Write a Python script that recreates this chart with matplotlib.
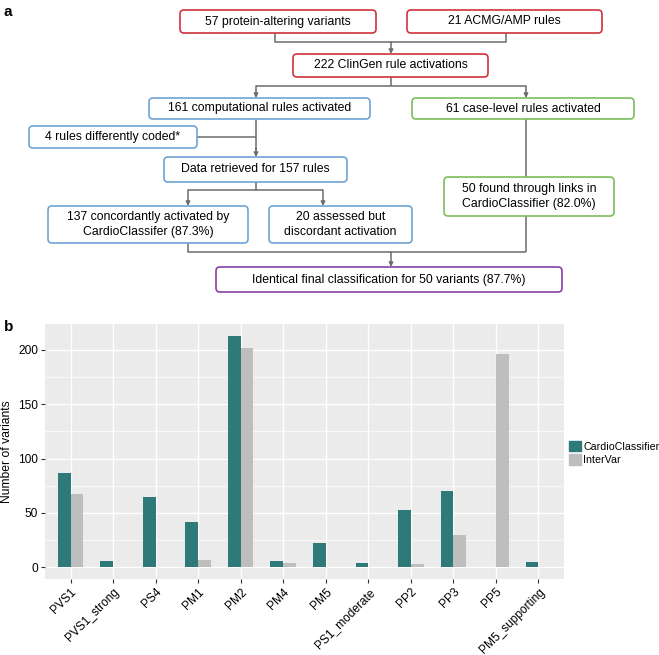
import numpy as np
import matplotlib.pyplot as plt
from matplotlib.patches import FancyBboxPatch, Patch

# panel b data
rules = ['PVS1', 'PVS1_strong', 'PS4', 'PM1', 'PM2', 'PM4', 'PM5',
         'PS1_moderate', 'PP2', 'PP3', 'PP5', 'PM5_supporting']
cardio = [87, 6, 65, 42, 213, 6, 22, 4, 53, 70, 0, 5]
intervar = [67, 0, 0, 7, 202, 4, 0, 0, 3, 30, 196, 0]
series_names = ['CardioClassifier', 'InterVar']

# panel a boxes: text, edge colour, (x0, y0, x1, y1) in pixels
boxes = [
    ('57 protein-altering variants', 'red', (180, 10, 376, 33)),
    ('21 ACMG/AMP rules', 'red', (407, 10, 602, 33)),
    ('222 ClinGen rule activations', 'red', (293, 54, 488, 77)),
    ('161 computational rules activated', 'blue', (149, 98, 370, 119)),
    ('61 case-level rules activated', 'green', (412, 98, 634, 119)),
    ('4 rules differently coded*', 'blue', (29, 126, 197, 148)),
    ('Data retrieved for 157 rules', 'blue', (164, 157, 347, 182)),
    ('137 concordantly activated by\nCardioClassifer (87.3%)', 'blue', (48, 206, 248, 243)),
    ('20 assessed but\ndiscordant activation', 'blue', (269, 206, 412, 243)),
    ('50 found through links in\nCardioClassifier (82.0%)', 'green', (444, 177, 614, 216)),
    ('Identical final classification for 50 variants (87.7%)', 'purple', (216, 267, 562, 292)),
]
edge = {'red': '#D0343A', 'blue': '#6FA3D6', 'green': '#7DBE5A', 'purple': '#8A3FA6'}

# connector lines (pixel polylines)
lines = [
    [(275, 33), (275, 42), (506, 42), (506, 33)],
    [(391, 77), (391, 86)],
    [(256, 86), (526, 86)],
    [(256, 119), (256, 150)],
    [(197, 137), (256, 137)],
    [(256, 182), (256, 190)],
    [(188, 190), (323, 190)],
    [(526, 119), (526, 177)],
    [(526, 216), (526, 252)],
    [(188, 243), (188, 252), (526, 252)],
]
arrows = [
    ((391, 42), (391, 54)),
    ((256, 86), (256, 98)),
    ((526, 86), (526, 98)),
    ((256, 148), (256, 157)),
    ((188, 190), (188, 206)),
    ((323, 190), (323, 206)),
    ((391, 252), (391, 267)),
]

W, H = 659, 655
fig = plt.figure(figsize=(6.59, 6.55), dpi=100)
plt.rcParams['font.family'] = ['Liberation Sans', 'DejaVu Sans']

ax0 = fig.add_axes([0, 0, 1, 1])
ax0.set_xlim(0, W)
ax0.set_ylim(H, 0)
ax0.axis('off')

line_col = '#6B6B6B'
for pts in lines:
    xs, ys = zip(*pts)
    ax0.plot(xs, ys, color=line_col, lw=1.1, solid_capstyle='butt')
for (x0, y0), (x1, y1) in arrows:
    ax0.annotate('', xy=(x1, y1), xytext=(x0, y0),
                 arrowprops=dict(arrowstyle='-|>', color=line_col, lw=1.1,
                                 mutation_scale=6, shrinkA=0, shrinkB=0))
for txt, col, (x0, y0, x1, y1) in boxes:
    p = FancyBboxPatch((x0, y0), x1 - x0, y1 - y0,
                       boxstyle='round,pad=0,rounding_size=4',
                       fc='white', ec=edge[col], lw=1.2, zorder=3)
    ax0.add_patch(p)
    ax0.text((x0 + x1) / 2, (y0 + y1) / 2, txt, ha='center', va='center',
             fontsize=8.8, zorder=4, linespacing=1.25)

fig.text(4 / W, 1 - 12 / H, 'a', fontsize=11, fontweight='bold', va='center')
fig.text(4 / W, 1 - 327 / H, 'b', fontsize=11, fontweight='bold', va='center')

# panel b
ax = fig.add_axes([45 / W, 76 / H, (564 - 45) / W, (579 - 324) / H])
ax.set_facecolor('#EBEBEB')
x = np.arange(1, len(rules) + 1)
bw = 0.3
ax.bar(x - bw / 2, cardio, bw, color='#2E7A78', zorder=3)
ax.bar(x + bw / 2, intervar, bw, color='#BEBEBE', zorder=3)
ax.set_xlim(0.4, len(rules) + 0.6)
ax.set_ylim(-10.65, 223.65)
ax.set_yticks([0, 50, 100, 150, 200])
ax.set_yticks([25, 75, 125, 175], minor=True)
ax.set_xticks(x)
ax.set_xticklabels(rules, rotation=45, ha='right', rotation_mode='anchor',
                   fontsize=8.6, color='black')
ax.tick_params(axis='y', labelsize=8.6, length=3, color='#333333',
               labelcolor='black', pad=2)
ax.tick_params(axis='y', which='minor', length=0)
ax.tick_params(axis='x', length=3, color='#333333', pad=2)
ax.grid(True, which='major', color='white', lw=1.0, zorder=0)
ax.grid(True, which='minor', axis='y', color='white', lw=0.5, zorder=0)
ax.set_axisbelow(True)
for s in ax.spines.values():
    s.set_visible(False)
ax.set_ylabel('Number of variants', fontsize=8.7, labelpad=4)

handles = [Patch(color='#2E7A78'), Patch(color='#BEBEBE')]
fig.legend(handles, series_names, loc='center left',
           bbox_to_anchor=(567 / W, 1 - 453 / H), frameon=False,
           handlelength=1.1, handleheight=1.15, handletextpad=0.2,
           labelspacing=0.25, fontsize=7.7, borderaxespad=0, borderpad=0.2)

fig.savefig('out.png', dpi=100)
